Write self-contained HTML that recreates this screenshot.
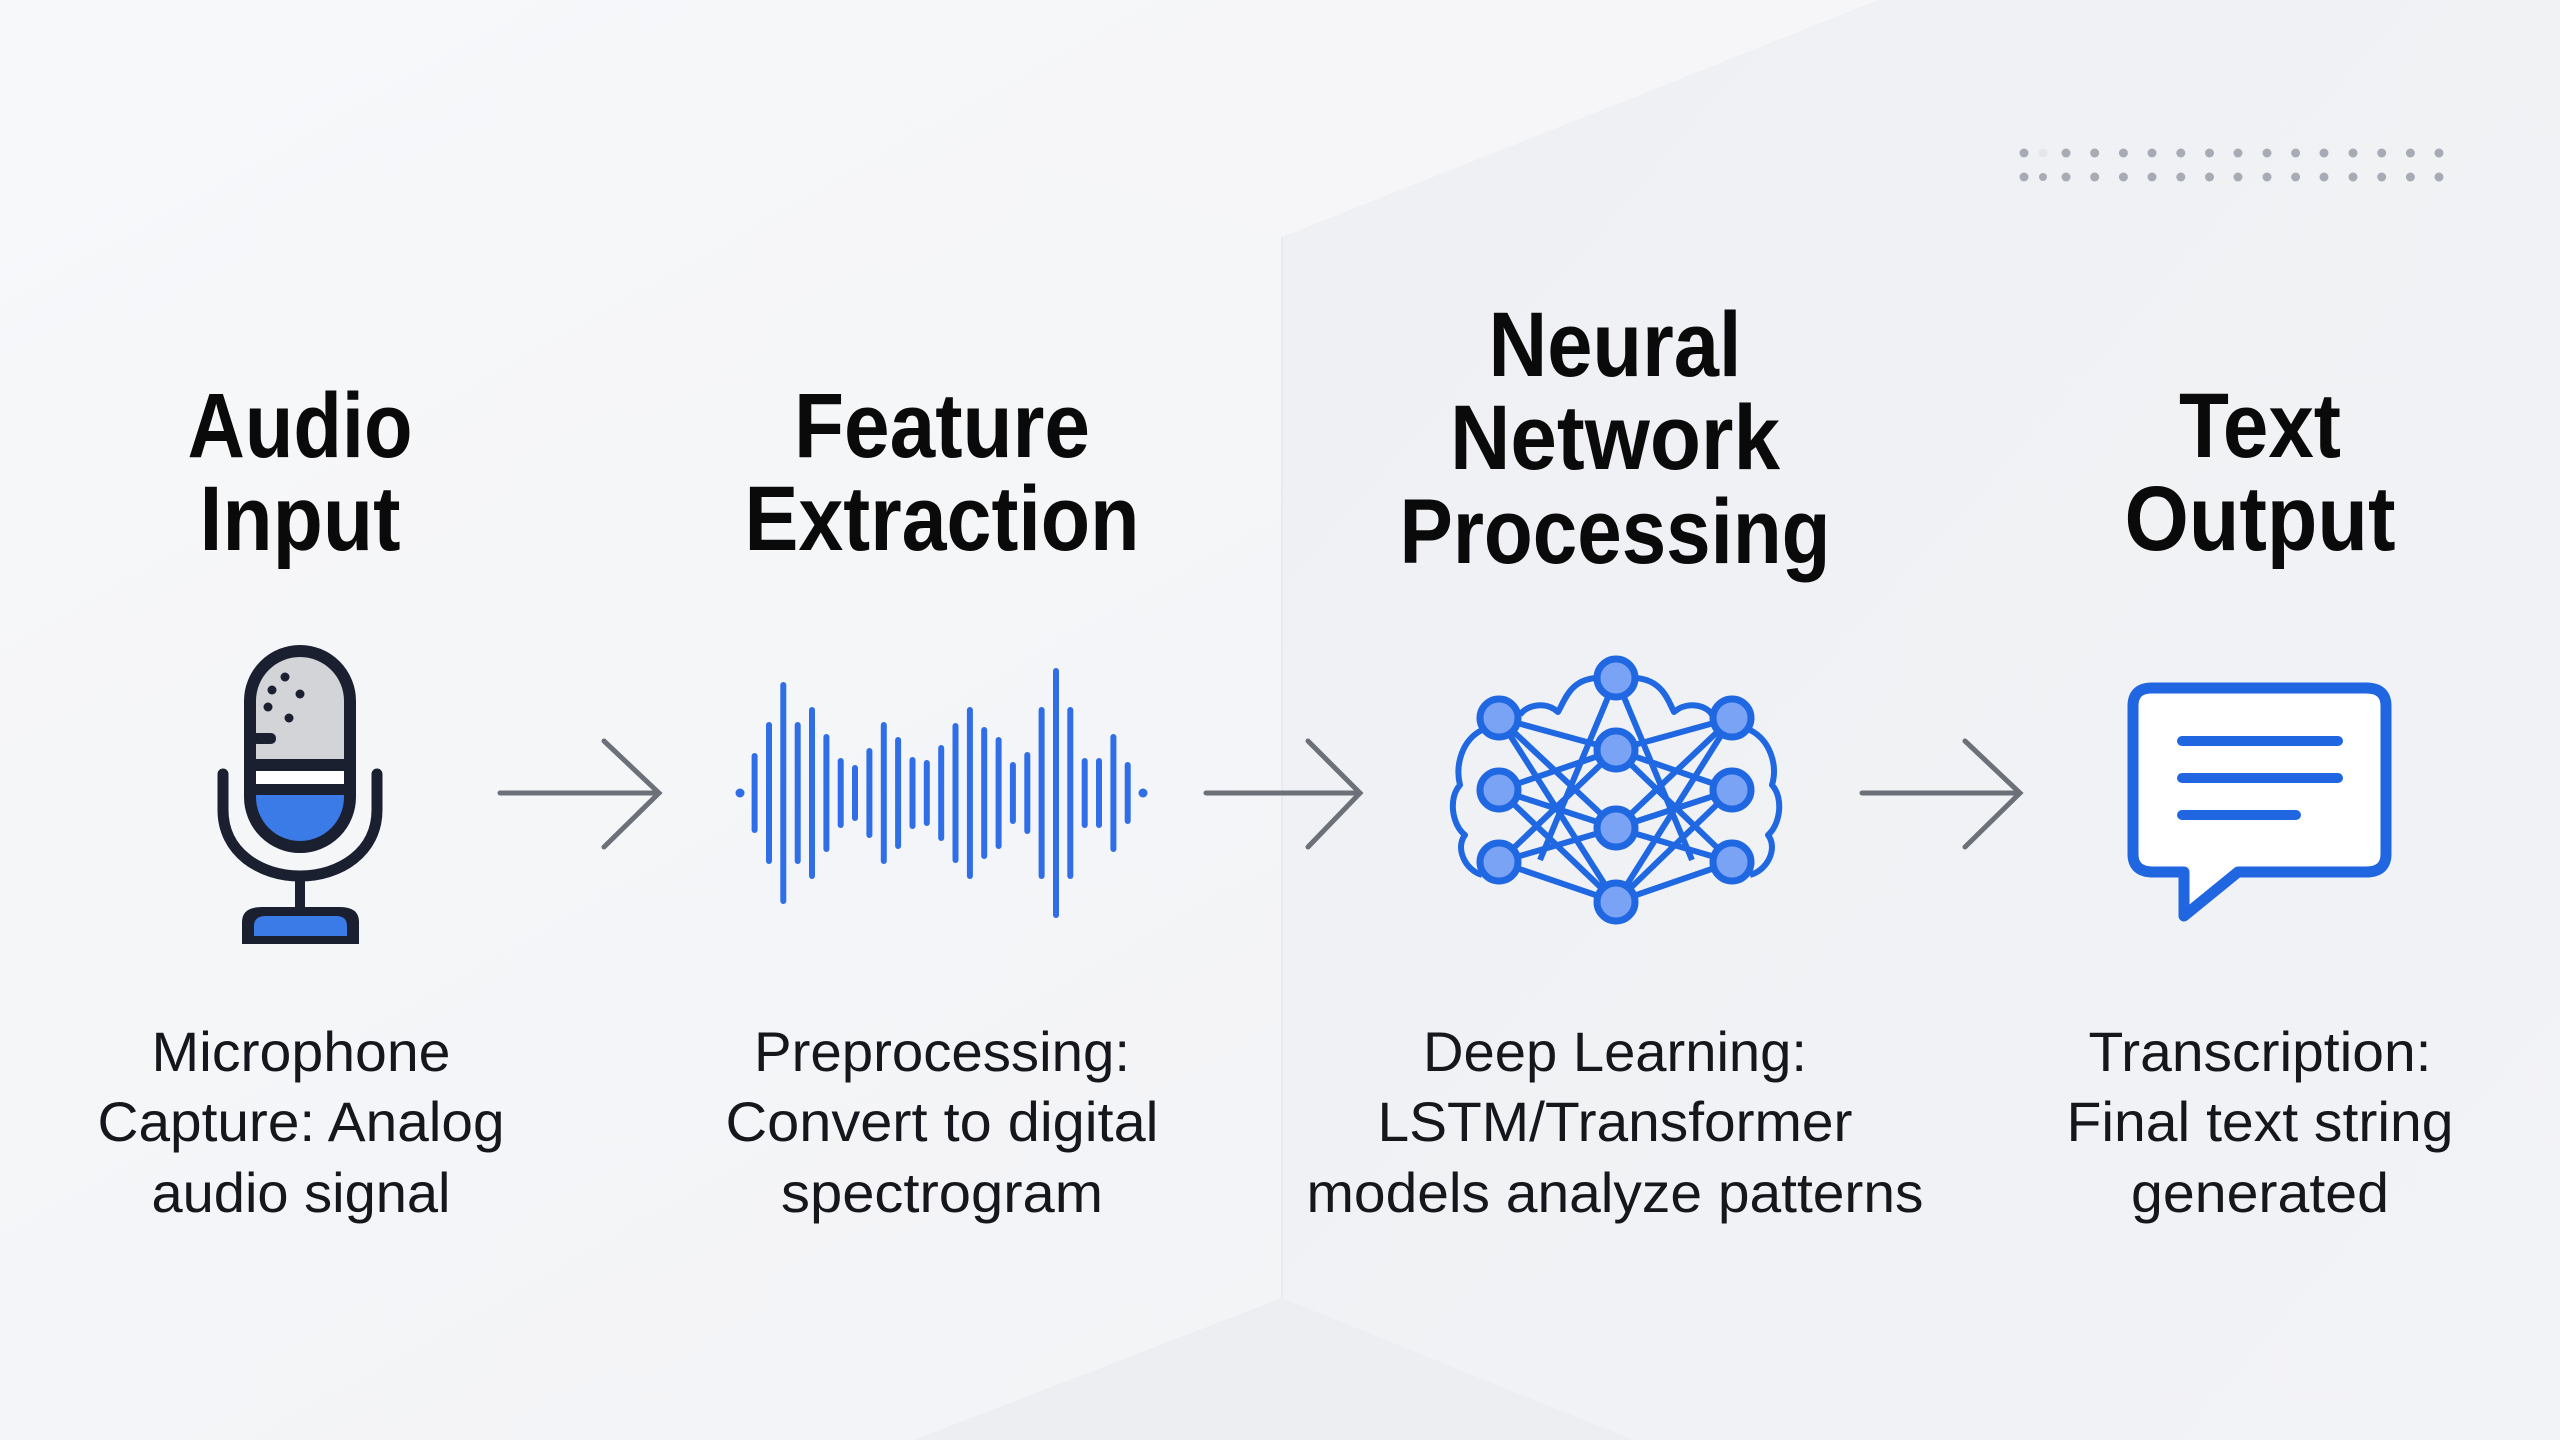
<!DOCTYPE html>
<html><head><meta charset="utf-8"><style>
html,body{margin:0;padding:0;width:2560px;height:1440px;overflow:hidden;background:#f4f5f7}
svg{display:block}
.h{font-family:"Liberation Sans",sans-serif;font-weight:bold;font-size:92px;fill:#0a0a0a;text-anchor:middle}
.d{font-family:"Liberation Sans",sans-serif;font-size:56px;fill:#15171c;text-anchor:middle}
</style></head><body>
<svg width="2560" height="1440" viewBox="0 0 2560 1440" xmlns="http://www.w3.org/2000/svg">
<defs>
<linearGradient id="lg" x1="0" y1="0" x2="1" y2="1"><stop offset="0" stop-color="#f7f8fa"/><stop offset="1" stop-color="#f1f2f5"/></linearGradient>
<linearGradient id="rg" x1="0" y1="0" x2="1" y2="1"><stop offset="0" stop-color="#eef0f3"/><stop offset="1" stop-color="#f2f3f6"/></linearGradient>
<clipPath id="cap"><rect x="250" y="651" width="100" height="196" rx="50"/></clipPath>
</defs>
<rect width="2560" height="1440" fill="url(#lg)"/>
<polygon points="1282,237 1878,0 2560,0 2560,1440 1633,1440 1282,1298" fill="url(#rg)"/>
<polygon points="0,0 1878,0 1282,237 816,98 700,0" fill="#f6f7f9" opacity="0.6"/>
<polygon points="1282,1298 914,1440 1633,1440" fill="#eceef1"/>
<line x1="1282" y1="237" x2="1282" y2="1298" stroke="#e8eaee" stroke-width="2"/>

<!-- dots -->
<g fill="#a7abb3">
<circle cx="2024" cy="153" r="4.5"/><circle cx="2043" cy="153" r="4.5" fill="#e4e6ea"/><circle cx="2066" cy="153" r="4.5"/><circle cx="2094.7" cy="153" r="4.5"/><circle cx="2123.4" cy="153" r="4.5"/><circle cx="2152" cy="153" r="4.5"/><circle cx="2180.8" cy="153" r="4.5"/><circle cx="2209.5" cy="153" r="4.5"/><circle cx="2238" cy="153" r="4.5"/><circle cx="2267" cy="153" r="4.5"/><circle cx="2295.6" cy="153" r="4.5"/><circle cx="2324" cy="153" r="4.5"/><circle cx="2353" cy="153" r="4.5"/><circle cx="2381.7" cy="153" r="4.5"/><circle cx="2410.4" cy="153" r="4.5"/><circle cx="2439" cy="153" r="4.5"/>
<circle cx="2024" cy="177" r="4.5"/><circle cx="2043" cy="177" r="4"/><circle cx="2066" cy="177" r="4.5"/><circle cx="2094.7" cy="177" r="4.5"/><circle cx="2123.4" cy="177" r="4.5"/><circle cx="2152" cy="177" r="4.5"/><circle cx="2180.8" cy="177" r="4.5"/><circle cx="2209.5" cy="177" r="4.5"/><circle cx="2238" cy="177" r="4.5"/><circle cx="2267" cy="177" r="4.5"/><circle cx="2295.6" cy="177" r="4.5"/><circle cx="2324" cy="177" r="4.5"/><circle cx="2353" cy="177" r="4.5"/><circle cx="2381.7" cy="177" r="4.5"/><circle cx="2410.4" cy="177" r="4.5"/><circle cx="2439" cy="177" r="4.5"/>
</g>

<!-- headings -->
<text class="h" x="300" y="457" textLength="225" lengthAdjust="spacingAndGlyphs">Audio</text>
<text class="h" x="300" y="550" textLength="201" lengthAdjust="spacingAndGlyphs">Input</text>
<text class="h" x="942" y="457" textLength="296" lengthAdjust="spacingAndGlyphs">Feature</text>
<text class="h" x="942" y="550" textLength="395" lengthAdjust="spacingAndGlyphs">Extraction</text>
<text class="h" x="1615" y="376" textLength="253" lengthAdjust="spacingAndGlyphs">Neural</text>
<text class="h" x="1615" y="469" textLength="330" lengthAdjust="spacingAndGlyphs">Network</text>
<text class="h" x="1615" y="563" textLength="431" lengthAdjust="spacingAndGlyphs">Processing</text>
<text class="h" x="2260" y="457" textLength="162" lengthAdjust="spacingAndGlyphs">Text</text>
<text class="h" x="2260" y="550" textLength="271" lengthAdjust="spacingAndGlyphs">Output</text>

<!-- descriptions -->
<text class="d" x="301" y="1071" textLength="299" lengthAdjust="spacingAndGlyphs">Microphone</text>
<text class="d" x="301" y="1141" textLength="407" lengthAdjust="spacingAndGlyphs">Capture: Analog</text>
<text class="d" x="301" y="1212" textLength="299" lengthAdjust="spacingAndGlyphs">audio signal</text>
<text class="d" x="942" y="1071" textLength="376" lengthAdjust="spacingAndGlyphs">Preprocessing:</text>
<text class="d" x="942" y="1141" textLength="433" lengthAdjust="spacingAndGlyphs">Convert to digital</text>
<text class="d" x="942" y="1212" textLength="322" lengthAdjust="spacingAndGlyphs">spectrogram</text>
<text class="d" x="1615" y="1071" textLength="384" lengthAdjust="spacingAndGlyphs">Deep Learning:</text>
<text class="d" x="1615" y="1141" textLength="475" lengthAdjust="spacingAndGlyphs">LSTM/Transformer</text>
<text class="d" x="1615" y="1212" textLength="617" lengthAdjust="spacingAndGlyphs">models analyze patterns</text>
<text class="d" x="2260" y="1071" textLength="343" lengthAdjust="spacingAndGlyphs">Transcription:</text>
<text class="d" x="2260" y="1141" textLength="387" lengthAdjust="spacingAndGlyphs">Final text string</text>
<text class="d" x="2260" y="1212" textLength="258" lengthAdjust="spacingAndGlyphs">generated</text>

<!-- microphone -->
<g clip-path="url(#cap)">
<rect x="240" y="640" width="120" height="125" fill="#d2d4d7"/>
<rect x="240" y="765" width="120" height="30" fill="#ffffff"/>
<rect x="240" y="795" width="120" height="60" fill="#3b7be8"/>
<rect x="240" y="759" width="120" height="12" fill="#1b2030"/>
<rect x="240" y="784" width="120" height="11" fill="#1b2030"/>
</g>
<rect x="250" y="651" width="100" height="196" rx="50" fill="none" stroke="#1b2030" stroke-width="12"/>
<rect x="252" y="733" width="24" height="11" rx="5" fill="#1b2030"/>
<g fill="#1b2030"><circle cx="285" cy="677" r="4.5"/><circle cx="272" cy="690" r="4.5"/><circle cx="300" cy="694" r="4.5"/><circle cx="268" cy="707" r="4.5"/><circle cx="289" cy="718" r="4.5"/></g>
<path d="M223,774 V810 C223,852 260,876 300,876 C340,876 377,852 377,810 V774" fill="none" stroke="#1b2030" stroke-width="11" stroke-linecap="round"/>
<line x1="300" y1="876" x2="300" y2="910" stroke="#1b2030" stroke-width="10"/>
<path d="M262,907 H340 Q359,907 359,922 V944 H242 V922 Q242,907 262,907 Z" fill="#1b2030"/>
<path d="M266,916 H336 Q347,916 347,926 V936 H254 V926 Q254,916 266,916 Z" fill="#3b7be8"/>

<!-- arrows -->
<g fill="none" stroke="#6b7079" stroke-width="5" stroke-linecap="round">
<path d="M500,793 H658"/><path d="M604,741 L659,793 L604,847"/>
<path d="M1206,793 H1358"/><path d="M1308,741 L1360,793 L1308,847"/>
<path d="M1862,793 H2018"/><path d="M1965,741 L2020,793 L1965,847"/>
</g>

<!-- waveform -->
<g stroke="#2f6ee6" stroke-width="6" stroke-linecap="round">
<line x1="754.6" y1="756" x2="754.6" y2="830"/>
<line x1="769" y1="725" x2="769" y2="861"/>
<line x1="783.3" y1="685" x2="783.3" y2="901"/>
<line x1="797.7" y1="725" x2="797.7" y2="861"/>
<line x1="812" y1="710" x2="812" y2="876"/>
<line x1="826.4" y1="737" x2="826.4" y2="849"/>
<line x1="840.7" y1="761" x2="840.7" y2="825"/>
<line x1="855" y1="768" x2="855" y2="818"/>
<line x1="869.4" y1="751" x2="869.4" y2="835"/>
<line x1="883.8" y1="725" x2="883.8" y2="861"/>
<line x1="898.1" y1="740" x2="898.1" y2="846"/>
<line x1="912.5" y1="760" x2="912.5" y2="826"/>
<line x1="926.8" y1="763" x2="926.8" y2="823"/>
<line x1="941.2" y1="748" x2="941.2" y2="838"/>
<line x1="955.5" y1="726" x2="955.5" y2="860"/>
<line x1="969.9" y1="710" x2="969.9" y2="876"/>
<line x1="984.2" y1="730" x2="984.2" y2="856"/>
<line x1="998.6" y1="740" x2="998.6" y2="846"/>
<line x1="1012.9" y1="765" x2="1012.9" y2="821"/>
<line x1="1027.3" y1="755" x2="1027.3" y2="831"/>
<line x1="1041.6" y1="710" x2="1041.6" y2="876"/>
<line x1="1056" y1="671" x2="1056" y2="915"/>
<line x1="1070.3" y1="710" x2="1070.3" y2="876"/>
<line x1="1084.7" y1="761" x2="1084.7" y2="825"/>
<line x1="1099" y1="761" x2="1099" y2="825"/>
<line x1="1113.4" y1="737" x2="1113.4" y2="849"/>
<line x1="1127.7" y1="765" x2="1127.7" y2="821"/>
</g>
<circle cx="740" cy="793" r="4.5" fill="#2f6ee6"/><circle cx="1143" cy="793" r="4.5" fill="#2f6ee6"/>

<!-- neural network -->
<g fill="none" stroke="#2068e2" stroke-width="6" stroke-linejoin="round">
<path d="M1596,678 C1570,680 1565,700 1558,712 C1545,700 1525,706 1520,715 M1636,678 C1662,680 1668,700 1674,712 C1688,700 1708,706 1712,715 M1482,730 C1462,740 1455,765 1460,785 C1448,798 1452,825 1465,835 C1455,848 1465,870 1482,875 M1750,730 C1770,740 1778,765 1772,785 C1784,798 1780,825 1768,835 C1778,848 1768,870 1750,875"/>
<path d="M1499,718 L1616,750 L1732,718 M1499,790 L1616,750 L1732,790 M1499,862 L1616,750 L1732,862 M1499,718 L1616,828 L1732,718 M1499,790 L1616,828 L1732,790 M1499,862 L1616,828 L1732,862 M1499,862 L1616,902 L1732,862 M1499,790 L1616,902 L1732,790 M1616,678 L1540,860 M1616,678 L1692,860 M1499,718 L1616,902 M1732,718 L1616,902"/>
</g>
<g fill="#7ba3f5" stroke="#2068e2" stroke-width="7">
<circle cx="1616" cy="678" r="19"/>
<circle cx="1499" cy="718" r="19"/><circle cx="1499" cy="790" r="19"/><circle cx="1499" cy="862" r="19"/>
<circle cx="1616" cy="750" r="19"/><circle cx="1616" cy="828" r="19"/><circle cx="1616" cy="902" r="19"/>
<circle cx="1732" cy="718" r="19"/><circle cx="1732" cy="790" r="19"/><circle cx="1732" cy="862" r="19"/>
</g>

<!-- speech bubble -->
<path d="M2152,688 H2366 Q2386,688 2386,706 V854 Q2386,872 2366,872 H2238 L2184,916 L2184,872 H2153 Q2133,872 2133,854 V706 Q2133,688 2152,688 Z" fill="#ffffff" stroke="#1f66e0" stroke-width="11" stroke-linejoin="round"/>
<g stroke="#1f66e0" stroke-width="10" stroke-linecap="round">
<line x1="2182" y1="741" x2="2338" y2="741"/>
<line x1="2182" y1="778" x2="2338" y2="778"/>
<line x1="2182" y1="815" x2="2296" y2="815"/>
</g>
</svg>
</body></html>
